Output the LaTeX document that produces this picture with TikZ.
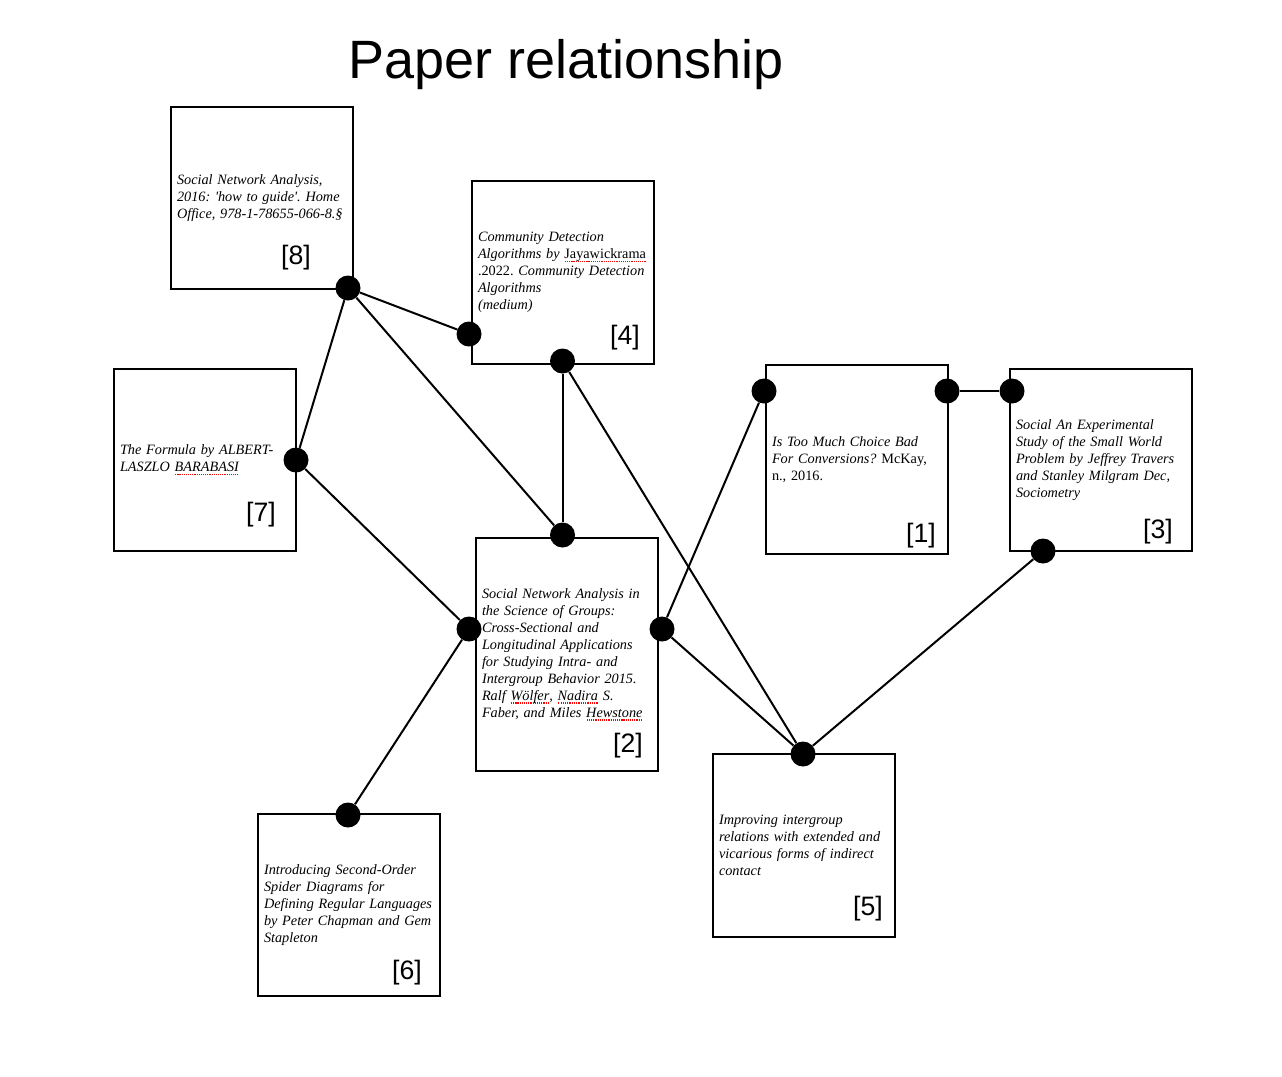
\documentclass[tikz,border=0pt]{standalone}
\usepackage{fontspec}
\setmainfont{Liberation Serif}
\newfontfamily\headfont{Liberation Sans}
\newsavebox\spellbox
\newcommand\spellchk[1]{\sbox\spellbox{#1}\rlap{\usebox\spellbox}%
    \raisebox{-2.4pt}{\color{red}\hbox to \wd\spellbox{\xleaders\hbox to 1.6pt{\hss\rule{0.9pt}{0.9pt}\hss}\hfill}}}
\tikzset{
    paper/.style={draw,line width=1.2pt,rectangle,minimum width=136.5pt,
        text width=127.5pt,inner xsep=4.5pt,inner ysep=0pt,align=left,
        font=\fontsize{10.7}{12.75}\selectfont\itshape\frenchspacing},
    tag/.style={font=\headfont\fontsize{20}{24}\selectfont,inner sep=0pt},
    joint/.style={circle,fill=black,minimum size=18.75pt,inner sep=0pt},
    link/.style={line width=1.5pt},
}
\begin{document}
\begin{tikzpicture}[x=0.75pt,y=-0.75pt]
        \useasboundingbox (0,0) rectangle (1282,1076);
        %% title
        \node[font=\headfont\fontsize{40.5}{48}\selectfont,anchor=base] (ttl) at (566.5,78) {Paper relationship};
        %% papers
        \node[paper,minimum height=136.5pt] (b8) at (262,198) {Social Network Analysis,\\ 2016: \textquotesingle how to guide\textquotesingle. Home\\ Office, 978-1-78655-066-8.§};
        \node[paper,minimum height=137.25pt] (b4) at (563,272.5) {Community Detection\\ Algorithms by {\upshape\spellchk{Jayawickrama}}\\ {\upshape .2022.} Community Detection\\ Algorithms\\ (medium)};
        \node[paper,minimum height=136.5pt] (b7) at (205,460) {The Formula by ALBERT-\\ LASZLO \spellchk{BARABASI}};
        \node[paper,minimum height=174.75pt] (b2) at (567,654.5) {Social Network Analysis in\\ the Science of Groups:\\ Cross-Sectional and\\ Longitudinal Applications\\ for Studying Intra- and\\ Intergroup Behavior 2015.\\ Ralf \spellchk{Wölfer}, \spellchk{Nadira} S.\\ Faber, and Miles \spellchk{Hewstone}};
        \node[paper,minimum height=141.75pt] (b1) at (857,459.5) {Is Too Much Choice Bad\\ For Conversions? {\upshape McKay,}\\ {\upshape n., 2016.}};
        \node[paper,minimum height=136.5pt] (b3) at (1101,460) {Social An Experimental\\ Study of the Small World\\ Problem by Jeffrey Travers\\ and Stanley Milgram Dec,\\ Sociometry};
        \node[paper,minimum height=137.25pt] (b5) at (804,845.5) {Improving intergroup\\ relations with extended and\\ vicarious forms of indirect\\ contact};
        \node[paper,minimum height=136.5pt] (b6) at (349,905) {Introducing Second-Order\\ Spider Diagrams for\\ Defining Regular Languages\\ by Peter Chapman and Gem\\ Stapleton};
        %% numbers
        \foreach \n/\x/\y in {8/296/258,4/625/338,7/261/515,2/628/746,1/921/536,3/1158/532,5/868/909,6/407/973} {
            \node[tag] (t\n) at (\x,\y) {[\n]};
        }
        %% joints
        \foreach \j/\x/\y in {d8/348/288,d4l/469/334,d4b/562.5/361,d7/296/460,d2t/562.5/535,d2l/469/629,d2r/662/629,d1l/764/391,d1r/947/391,d3l/1012/391,d3b/1043/551,d5/803/754,d6/348/815} {
            \node[joint] (\j) at (\x,\y) {};
        }
        %% links
        \foreach \a/\b in {d8/d4l,d8/d7,d8/d2t,d4b/d2t,d4b/d5,d7/d2l,d2l/d6,d2r/d1l,d2r/d5,d1r/d3l,d3b/d5} {
            \draw[link] (\a) -- (\b);
        }
    \end{tikzpicture}
\end{document}
